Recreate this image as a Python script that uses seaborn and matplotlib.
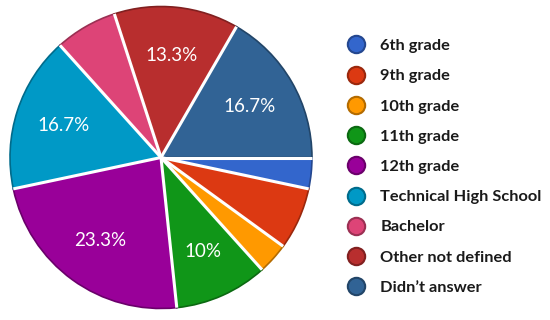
import numpy as np
import seaborn as sns
import matplotlib.pyplot as plt
from matplotlib.lines import Line2D

sns.set_style('white')
plt.rcParams['font.family'] = ['Lato', 'DejaVu Sans']

categories = ['6th grade', '9th grade', '10th grade', '11th grade', '12th grade',
              'Technical High School', 'Bachelor', 'Other not defined', 'Didn\u2019t answer']
counts = [1, 2, 1, 3, 7, 5, 2, 4, 5]
colors = ['#3366CC', '#DC3912', '#FF9900', '#109618', '#990099',
          '#0099C6', '#DD4477', '#B82E2E', '#316395']
palette = sns.color_palette(colors)
dark = [tuple(np.array(c) * 0.7) for c in palette]

fig = plt.figure(figsize=(5.5, 3.2), dpi=100)
ax = fig.add_axes([7/550, 8/320, 308/550, 309/320])

def fmt(p):
    return f'{p:.1f}%'.replace('.0%', '%') if p >= 9.5 else ''

wedges, texts, autotexts = ax.pie(counts, colors=palette, startangle=0, counterclock=False,
                                  autopct=fmt, pctdistance=0.68,
                                  wedgeprops=dict(linewidth=1.2),
                                  textprops=dict(color='white', fontsize=13.5))
for w, d in zip(wedges, dark):
    w.set_edgecolor(d)

# white separators between slices
for w in wedges:
    a = np.deg2rad(w.theta1)
    ax.plot([0, np.cos(a)], [0, np.sin(a)], color='white', lw=2.2, solid_capstyle='butt', zorder=5)

ax.set_xlim(-1.02, 1.02)
ax.set_ylim(-1.02, 1.02)
ax.set_aspect('equal')
ax.axis('off')

handles = [Line2D([], [], marker='o', linestyle='none', markersize=12.5,
                  markerfacecolor=c, markeredgecolor=d, markeredgewidth=1.5)
           for c, d in zip(palette, dark)]
fig.legend(handles, categories, loc='upper left', bbox_to_anchor=(331/550, 1 - 24/320),
           frameon=False, prop=dict(size=11.8, weight='bold'), labelcolor='#1a1a1a',
           handletextpad=0.9, labelspacing=0.96, handlelength=1.2)

fig.savefig('out.png', dpi=100)
